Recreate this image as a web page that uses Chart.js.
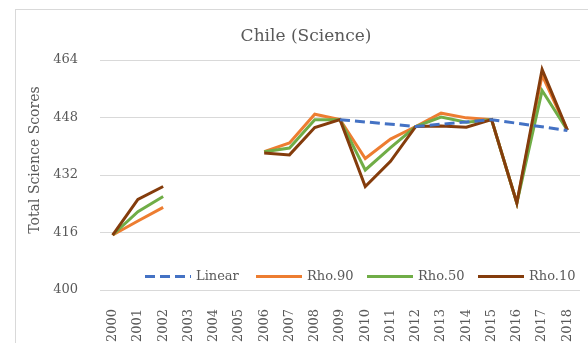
<!DOCTYPE html>
<html>
<head>
<meta charset="utf-8">
<script src="https://cdn.jsdelivr.net/npm/chart.js@4.4.1/dist/chart.umd.min.js"></script>
<style>
  html, body { margin: 0; padding: 0; background: #ffffff; }
  #wrap { width: 588px; height: 343px; }
</style>
</head>
<body>
<div id="wrap"><canvas id="c" width="588" height="343"></canvas></div>
<script>
// Survey years on the category axis
const years = ['2000','2001','2002','2003','2004','2005','2006','2007','2008','2009',
               '2010','2011','2012','2013','2014','2015','2016','2017','2018'];

// Linear trend: anchored at the cycle years, joined across the gaps
const linear = [null, null, null, null, null, null, null, null, null, 447.4,
                null, null, 445.5, null, null, 447.4, null, null, 444.4];

// Estimated total science scores for each rho setting
const rho90 = [415.3, 419.2, 423.0, null, null, null, 438.5, 440.9, 448.9, 447.4,
               436.6, 442.0, 445.5, 449.2, 447.9, 447.4, 424.2, 459.8, 444.5];
const rho50 = [415.3, 421.8, 426.0, null, null, null, 438.5, 439.5, 447.4, 447.4,
               433.4, 439.6, 445.5, 448.1, 446.7, 447.4, 424.2, 455.5, 444.5];
const rho10 = [415.3, 425.2, 428.8, null, null, null, 438.1, 437.6, 445.2, 447.4,
               428.8, 435.8, 445.5, 445.6, 445.3, 447.4, 424.2, 461.4, 444.5];

// Value axis
const yTicks = [400, 416, 432, 448, 464];

const seriesNames = ['Linear', 'Rho.90', 'Rho.50', 'Rho.10'];
const chartTitle = 'Chile (Science)';
const yTitle = 'Total Science Scores';
const TEXT = '#595959';
const FONT = 'DejaVu Serif';

// Frame, title, rotated axis title and in-plot legend
const decor = {
  id: 'decor',
  beforeDraw(chart) {
    const ctx = chart.ctx;
    ctx.save();
    ctx.fillStyle = '#ffffff';
    ctx.fillRect(0, 0, chart.width, chart.height);
    ctx.strokeStyle = '#d9d9d9';
    ctx.lineWidth = 1;
    ctx.strokeRect(15.5, 9.5, chart.width + 10, chart.height + 10);
    ctx.restore();
  },
  afterDraw(chart) {
    const ctx = chart.ctx;
    const area = chart.chartArea;

    // chart title
    ctx.save();
    ctx.font = '17px "' + FONT + '"';
    ctx.fillStyle = TEXT;
    ctx.textAlign = 'center';
    ctx.textBaseline = 'middle';
    ctx.fillText(chartTitle, 306, 37);
    ctx.restore();

    // value axis title
    ctx.save();
    ctx.translate(35, 160);
    ctx.rotate(-Math.PI / 2);
    ctx.font = '14px "' + FONT + '"';
    ctx.fillStyle = TEXT;
    ctx.textAlign = 'center';
    ctx.textBaseline = 'middle';
    ctx.fillText(yTitle, 0, 0);
    ctx.restore();

    // legend row along the bottom of the plot
    ctx.save();
    const y = area.bottom - 13.5;
    const slot = 111;
    let x = area.left + 45;
    ctx.font = '13px "' + FONT + '"';
    ctx.textBaseline = 'middle';
    ctx.textAlign = 'left';
    chart.data.datasets.forEach((ds) => {
      ctx.beginPath();
      ctx.strokeStyle = ds.borderColor;
      ctx.lineWidth = ds.borderWidth;
      ctx.setLineDash(ds.borderDash || []);
      ctx.moveTo(x, y);
      ctx.lineTo(x + 46, y);
      ctx.stroke();
      ctx.setLineDash([]);
      ctx.fillStyle = TEXT;
      ctx.fillText(ds.label, x + 51, y + 0.5);
      x += slot;
    });
    ctx.restore();
  }
};

const lineBase = { pointRadius: 0, pointHoverRadius: 0, tension: 0, fill: false, borderWidth: 3 };

new Chart(document.getElementById('c'), {
  type: 'line',
  data: {
    labels: years,
    datasets: [
      Object.assign({}, lineBase, { label: seriesNames[0], data: linear, borderColor: '#4472c4', borderDash: [10, 5], borderWidth: 3, spanGaps: true, order: 0 }),
      Object.assign({}, lineBase, { label: seriesNames[1], data: rho90, borderColor: '#ed7d31', spanGaps: false, order: 3 }),
      Object.assign({}, lineBase, { label: seriesNames[2], data: rho50, borderColor: '#70ad47', spanGaps: false, order: 2 }),
      Object.assign({}, lineBase, { label: seriesNames[3], data: rho10, borderColor: '#843c0c', spanGaps: false, order: 1 })
    ]
  },
  options: {
    responsive: false,
    animation: false,
    events: [],
    layout: { padding: { left: 0, right: 8, top: 60, bottom: 0 } },
    plugins: {
      legend: { display: false },
      tooltip: { enabled: false },
      title: { display: false }
    },
    scales: {
      x: {
        type: 'category',
        offset: true,
        grid: { display: false, drawTicks: false },
        border: { display: false },
        ticks: {
          color: TEXT,
          font: { family: FONT, size: 13 },
          minRotation: 90,
          maxRotation: 90,
          autoSkip: false,
          padding: 19
        },
        afterFit(scale) {
          scale.height = 53;
          scale.paddingLeft = 0;
          scale.paddingRight = 0;
        }
      },
      y: {
        min: yTicks[0],
        max: yTicks[yTicks.length - 1],
        afterBuildTicks(scale) { scale.ticks = yTicks.map(v => ({ value: v })); },
        grid: { color: '#d9d9d9', lineWidth: 1, drawTicks: false },
        border: { display: false },
        ticks: {
          color: TEXT,
          font: { family: FONT, size: 13 },
          padding: 22
        },
        afterFit(scale) {
          scale.width = 100;
          scale.paddingTop = 0;
          scale.paddingBottom = 0;
        }
      }
    }
  },
  plugins: [decor]
});
</script>
</body>
</html>
